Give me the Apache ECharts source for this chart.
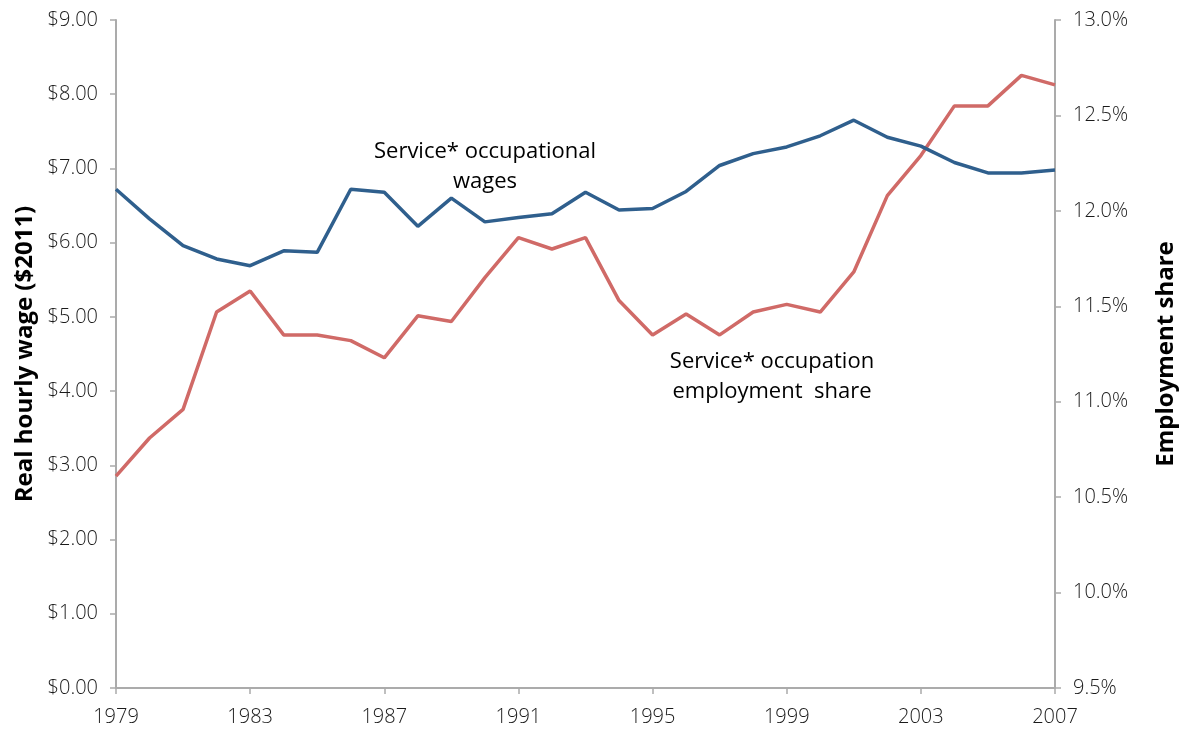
<!DOCTYPE html>
<html>
<head>
<meta charset="utf-8">
<style>
  html, body { margin: 0; padding: 0; background: #fff; }
  #chart { width: 1188px; height: 734px; }
</style>
<script src="https://cdn.jsdelivr.net/npm/echarts@6/dist/echarts.min.js"></script>
</head>
<body>
<div id="chart"></div>
<script>
// years on the x axis
const years = [
  "1979", "1980", "1981", "1982", "1983", "1984", "1985", "1986", "1987", "1988",
  "1989", "1990", "1991", "1992", "1993", "1994", "1995", "1996", "1997", "1998",
  "1999", "2000", "2001", "2002", "2003", "2004", "2005", "2006", "2007",
];

// real hourly wage, service occupations ($2011)
const wages = [
  6.72, 6.32, 5.96, 5.78, 5.69, 5.89, 5.87, 6.72, 6.68, 6.22,
  6.60, 6.28, 6.34, 6.39, 6.68, 6.44, 6.46, 6.69, 7.04, 7.20,
  7.29, 7.44, 7.65, 7.42, 7.30, 7.08, 6.94, 6.94, 6.98,
];

// employment share of service occupations (%)
const empShare = [
  10.61, 10.81, 10.96, 11.47, 11.58, 11.35, 11.35, 11.32, 11.23, 11.45,
  11.42, 11.65, 11.86, 11.80, 11.86, 11.53, 11.35, 11.46, 11.35, 11.47,
  11.51, 11.47, 11.68, 12.08, 12.29, 12.55, 12.55, 12.71, 12.66,
];

const chart = echarts.init(document.getElementById("chart"), null, { renderer: "canvas" });

const axisGray = "#ABABAB";
const tickFont = { color: "#1a1a1a", fontSize: 20, fontFamily: "Open Sans", fontWeight: 300 };
const titleFont = { fontSize: 24, fontWeight: "bold", color: "#000", fontFamily: "Open Sans" };

chart.setOption({
  animation: false,
  backgroundColor: "#fff",
  grid: { left: 116, right: 133, top: 20, bottom: 46 },
  xAxis: {
    type: "category",
    data: years,
    boundaryGap: false,
    axisLine: { lineStyle: { color: axisGray, width: 2 } },
    axisTick: { interval: 3, length: 6, lineStyle: { color: axisGray, width: 1.5 } },
    axisLabel: Object.assign({ interval: 3, margin: 19 }, tickFont),
  },
  yAxis: [
    {
      type: "value",
      min: 0,
      max: 9,
      interval: 1,
      name: "Real hourly wage ($2011)",
      nameLocation: "middle",
      nameGap: 78,
      nameTextStyle: titleFont,
      splitLine: { show: false },
      axisLine: { show: true, lineStyle: { color: axisGray, width: 2 } },
      axisTick: { show: true, length: 6, lineStyle: { color: axisGray, width: 1.5 } },
      axisLabel: Object.assign({ margin: 18, formatter: (v) => "$" + v.toFixed(2) }, tickFont),
    },
    {
      type: "value",
      min: 9.5,
      max: 13,
      interval: 0.5,
      position: "right",
      name: "Employment share",
      nameLocation: "middle",
      nameGap: 99,
      nameRotate: 90,
      nameTextStyle: titleFont,
      splitLine: { show: false },
      axisLine: { show: true, lineStyle: { color: axisGray, width: 2 } },
      axisTick: { show: true, length: 6, lineStyle: { color: axisGray, width: 1.5 } },
      axisLabel: Object.assign({ margin: 18, formatter: (v) => v.toFixed(1) + "%" }, tickFont),
    },
  ],
  series: [
    {
      name: "Service* occupational wages",
      type: "line",
      yAxisIndex: 0,
      data: wages,
      symbol: "none",
      lineStyle: { color: "#2F5F8D", width: 3.5 },
      z: 3,
    },
    {
      name: "Service* occupation employment share",
      type: "line",
      yAxisIndex: 1,
      data: empShare,
      symbol: "none",
      lineStyle: { color: "#D06A67", width: 3.5 },
      z: 2,
    },
  ],
  graphic: [
    {
      type: "text",
      x: 485,
      y: 137,
      style: {
        text: "Service* occupational\nwages",
        align: "center",
        verticalAlign: "top",
        fontSize: 22,
        lineHeight: 30,
        fontFamily: "Open Sans",
        fill: "#000",
      },
    },
    {
      type: "text",
      x: 772,
      y: 347,
      style: {
        text: "Service* occupation\nemployment  share",
        align: "center",
        verticalAlign: "top",
        fontSize: 22,
        lineHeight: 30,
        fontFamily: "Open Sans",
        fill: "#000",
      },
    },
  ],
});

window.addEventListener("resize", () => chart.resize());
</script>
</body>
</html>
